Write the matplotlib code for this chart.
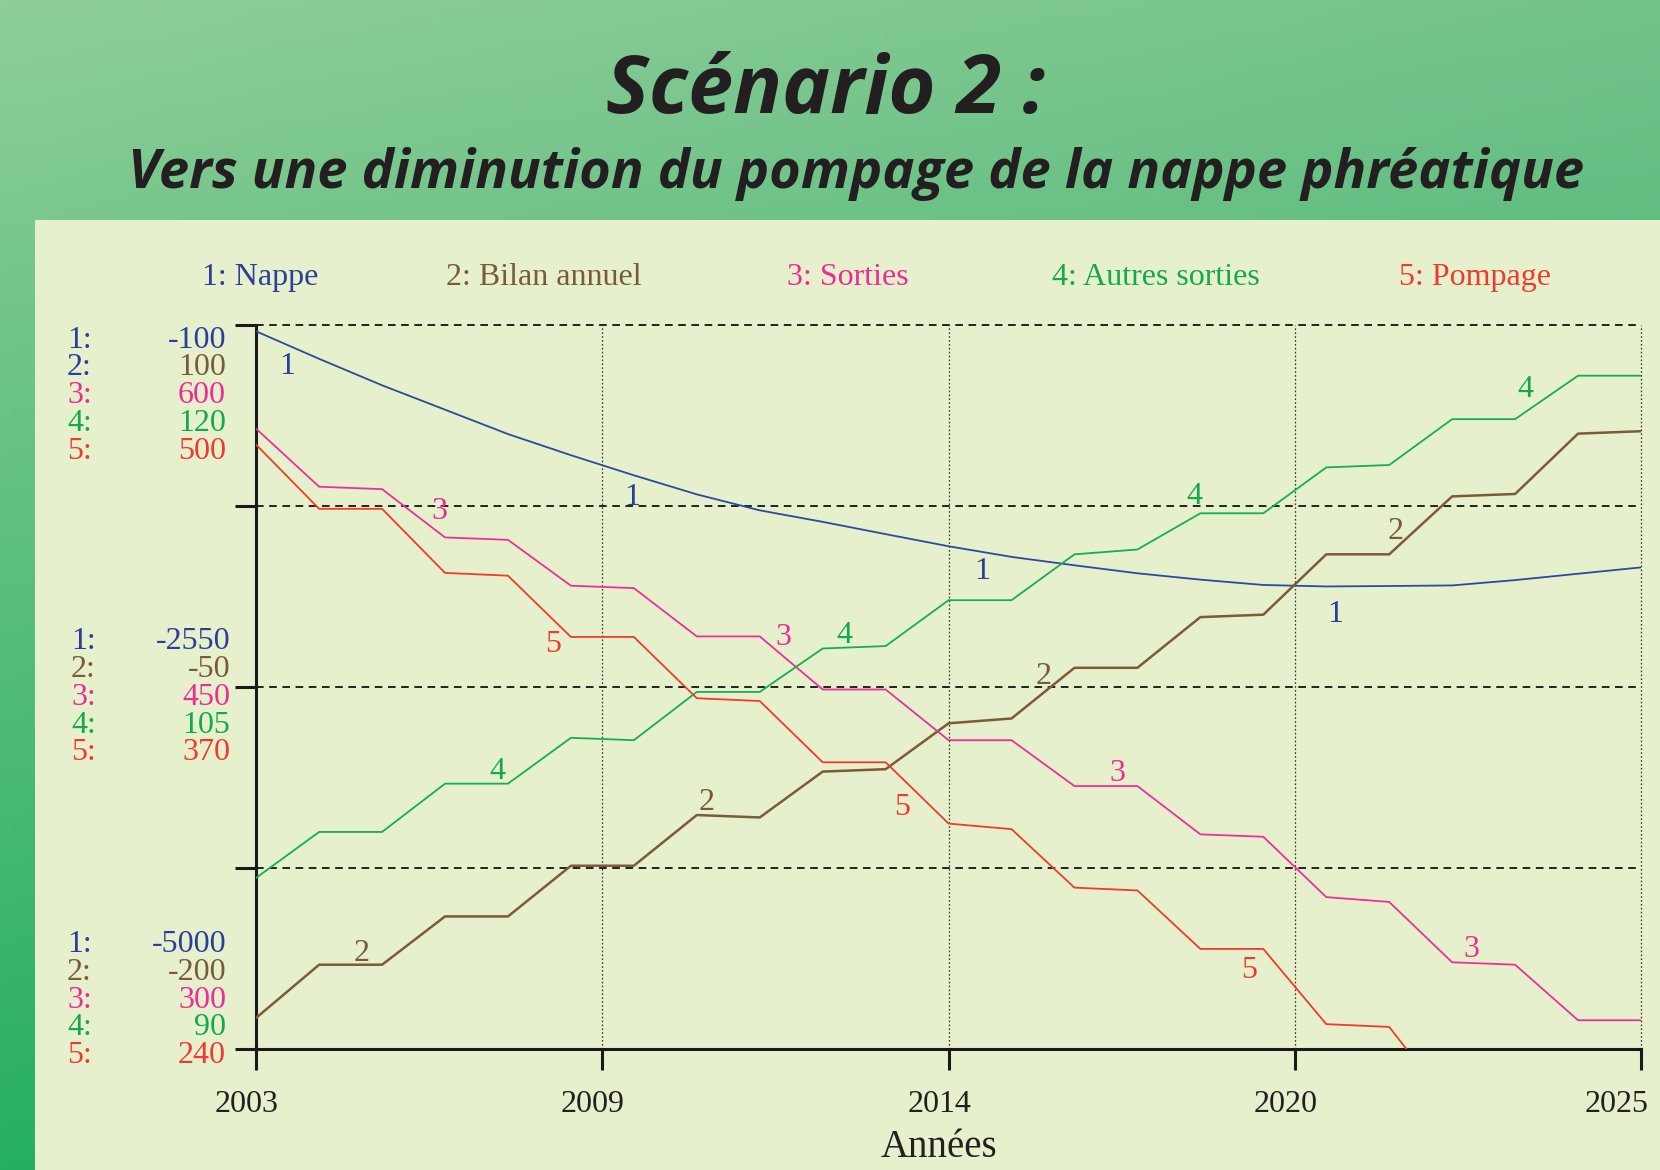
import numpy as np
import matplotlib
matplotlib.use('Agg')
import matplotlib.pyplot as plt
from matplotlib import font_manager as fm
from matplotlib.transforms import ScaledTranslation, blended_transform_factory
from matplotlib.patches import Rectangle

plt.rcParams['lines.scale_dashes'] = False

# ---------------- data ----------------
years = list(range(2003, 2026))
nappe = [-143, -329, -508, -673, -838, -981, -1117, -1246, -1354, -1432, -1515, -1597,
         -1669, -1726, -1780, -1823, -1859, -1869, -1866, -1862, -1826, -1783, -1740]
bilan = [-187, -165, -165, -145, -145, -124, -124, -103, -104, -85, -84, -65,
         -63, -42, -42, -21, -20, 5, 5, 29, 30, 55, 56]
sorties = [557, 533, 532, 512, 511, 492, 491, 471, 471, 449, 449, 428,
           428, 409, 409, 389, 388, 363, 361, 336, 335, 312, 312]
autres = [97.1, 99.0, 99.0, 101.0, 101.0, 102.9, 102.8, 104.8, 104.8, 106.6, 106.7, 108.6,
          108.6, 110.5, 110.7, 112.2, 112.2, 114.1, 114.2, 116.1, 116.1, 117.9, 117.9]
pompage = [457, 434, 434, 411, 410, 388, 388, 366, 365, 343, 343, 321,
           319, 298, 297, 276, 276, 249, 248, 219, 218, 196, 196]

series_names = ['1: Nappe', '2: Bilan annuel', '3: Sorties', '4: Autres sorties', '5: Pompage']
scale_min = [-5000, -200, 300, 90, 240]
scale_mid = [-2550, -50, 450, 105, 370]
scale_max = [-100, 100, 600, 120, 500]
x_tick_pos = [2003, 2008.5, 2014, 2019.5, 2025]
x_tick_labels = ['2003', '2009', '2014', '2020', '2025']

# in-line series number labels (year, fraction of axis height)
line_labels = [
    [(2003.49, 0.947), (2008.97, 0.766), (2014.54, 0.664), (2020.14, 0.605)],
    [(2004.67, 0.136), (2010.15, 0.345), (2015.51, 0.519), (2021.10, 0.719)],
    [(2005.91, 0.746), (2011.38, 0.572), (2016.69, 0.385), (2022.31, 0.142)],
    [(2006.83, 0.387), (2012.35, 0.576), (2017.90, 0.768), (2023.17, 0.915)],
    [(2007.71, 0.563), (2013.26, 0.338), (2018.78, 0.113)],
]

line_colors = ['#2f48a0', '#7d5a38', '#ee2f9b', '#14af50', '#f03c28']
text_colors = ['#2b3f98', '#7b5a3c', '#ec2d94', '#15a84c', '#ef3b2c']

W, H = 1660, 1170
fig = plt.figure(figsize=(W / 100, H / 100), dpi=100)

def fx(x):
    return x / W

def fy(y):
    return 1 - y / H

# background gradient
bg = fig.add_axes([0, 0, 1, 1], zorder=-10)
bg.axis('off')
u = np.linspace(0, 1, 240)[None, :, None]
v = np.linspace(0, 1, 180)[:, None, None]
tl = np.array([142, 206, 153]); tr = np.array([116, 195, 139]); bl = np.array([38, 175, 98])
img = tl + (tr - tl) * u + (bl - tl) * v
bg.imshow(np.clip(img / 255, 0, 1), aspect='auto', extent=(0, 1, 0, 1), origin='upper')
bg.set_xlim(0, 1); bg.set_ylim(0, 1)

panel = Rectangle((fx(35), 0), 1, fy(220), transform=fig.transFigure,
                  facecolor='#e6f0cd', edgecolor='none', zorder=-5)
fig.add_artist(panel)

# --------------- title ---------------
def pick_bold_italic(cands):
    wmap = {'bold': 700, 'heavy': 800, 'black': 900, 'semibold': 600,
            'demibold': 600, 'extra bold': 800, 'ultrabold': 800}
    for fam in cands:
        for f in fm.fontManager.ttflist:
            w = f.weight
            wnum = w if isinstance(w, int) else wmap.get(str(w).lower(), 400)
            if f.name == fam and f.style in ('italic', 'oblique') and wnum >= 600:
                return fam
    return 'DejaVu Sans'

tfam = pick_bold_italic(['Open Sans', 'Lato', 'Noto Sans', 'Liberation Sans', 'DejaVu Sans'])
renderer = fig.canvas.get_renderer()

def fitted_text(x, y, s, target_w, fs0):
    t = fig.text(fx(x), fy(y), s, fontsize=fs0, family=tfam, weight='bold', style='italic',
                 ha='center', va='baseline', color='#231f20')
    w = t.get_window_extent(renderer).width
    t.set_fontsize(fs0 * target_w / w)
    return t

fitted_text(826, 113, 'Scénario 2 :', 440, 60)
fitted_text(856, 188, 'Vers une diminution du pompage de la nappe phréatique', 1454, 40)

serif = 'Liberation Serif'

# legend labels
leg_x = [260, 544, 848, 1156, 1475]
for name, x, c in zip(series_names, leg_x, text_colors):
    fig.text(fx(x), fy(285), name, fontsize=23, family=serif, color=c,
             ha='center', va='baseline')

# --------------- main axes ---------------
ax_l, ax_r, ax_t, ax_b = 256.2, 1641.0, 325.0, 1049.2
ax = fig.add_axes([fx(ax_l), fy(ax_b), (ax_r - ax_l) / W, (ax_b - ax_t) / H])
ax.set_facecolor('none')
ax.set_xlim(2003, 2025)
ax.set_ylim(0, 1)

all_series = [nappe, bilan, sorties, autres, pompage]
for i, s in enumerate(all_series):
    norm = (np.array(s, dtype=float) - scale_min[i]) / (scale_max[i] - scale_min[i])
    ax.plot(years, norm, color=line_colors[i], lw=1.8 if i == 1 else 1.3, zorder=3)

for yv in [0.25, 0.5, 0.75, 1.0]:
    ax.axhline(yv, color='#222222', lw=1.4, dashes=(5.5, 4.0), clip_on=False, zorder=2)
for xv in x_tick_pos[1:]:
    ax.axvline(xv, color='#333333', lw=0.9, dashes=(1.2, 1.6), clip_on=False, zorder=2)

for side in ['top', 'right']:
    ax.spines[side].set_visible(False)
for side in ['left', 'bottom']:
    ax.spines[side].set_linewidth(2.2)
    ax.spines[side].set_color('#1a1a1a')
ax.set_yticks([0, 0.25, 0.5, 0.75, 1.0])
ax.set_xticks(x_tick_pos)
ax.tick_params(axis='both', direction='out', length=15, width=2.2, color='#1a1a1a',
               labelleft=False, labelbottom=False)

# x tick labels
tb = blended_transform_factory(ax.transData, ax.transAxes)
n_ticks = len(x_tick_pos)
for k, (p, lab) in enumerate(zip(x_tick_pos, x_tick_labels)):
    dx = -0.095 if k < n_ticks - 1 else -0.24
    ax.text(p, 0, lab, transform=tb + ScaledTranslation(dx, -(1112 - ax_b) / 100, fig.dpi_scale_trans),
            ha='center', va='baseline', fontsize=23, family=serif, color='#231f20', clip_on=False)

fig.text(fx(939), fy(1157), 'Années', fontsize=28, family=serif, color='#231f20',
         ha='center', va='baseline')

# y scale blocks
blocks = [
    (336.7, scale_max, 67, 226, [text_colors[0], text_colors[0]] + text_colors[2:]),
    (638.4, scale_mid, 71, 230, text_colors),
    (941.2, scale_min, 67, 226, text_colors),
]
for y0, vals, xl, xr, pcols in blocks:
    for i in range(5):
        yb = y0 + i * 27.8 + 10.8
        fig.text(fx(xl), fy(yb), f'{i + 1}:', fontsize=23, family=serif, color=pcols[i],
                 ha='left', va='baseline')
        fig.text(fx(xr), fy(yb), f'{vals[i]}', fontsize=23, family=serif, color=text_colors[i],
                 ha='right', va='baseline')

# in-line labels
off = ScaledTranslation(0, -0.105, fig.dpi_scale_trans)
for i, labs in enumerate(line_labels):
    for (yr, nv) in labs:
        ax.text(yr, nv, str(i + 1), transform=ax.transData + off, ha='center', va='baseline',
                fontsize=23, family=serif, color=text_colors[i], zorder=4)

fig.savefig('out.png', dpi=100)
